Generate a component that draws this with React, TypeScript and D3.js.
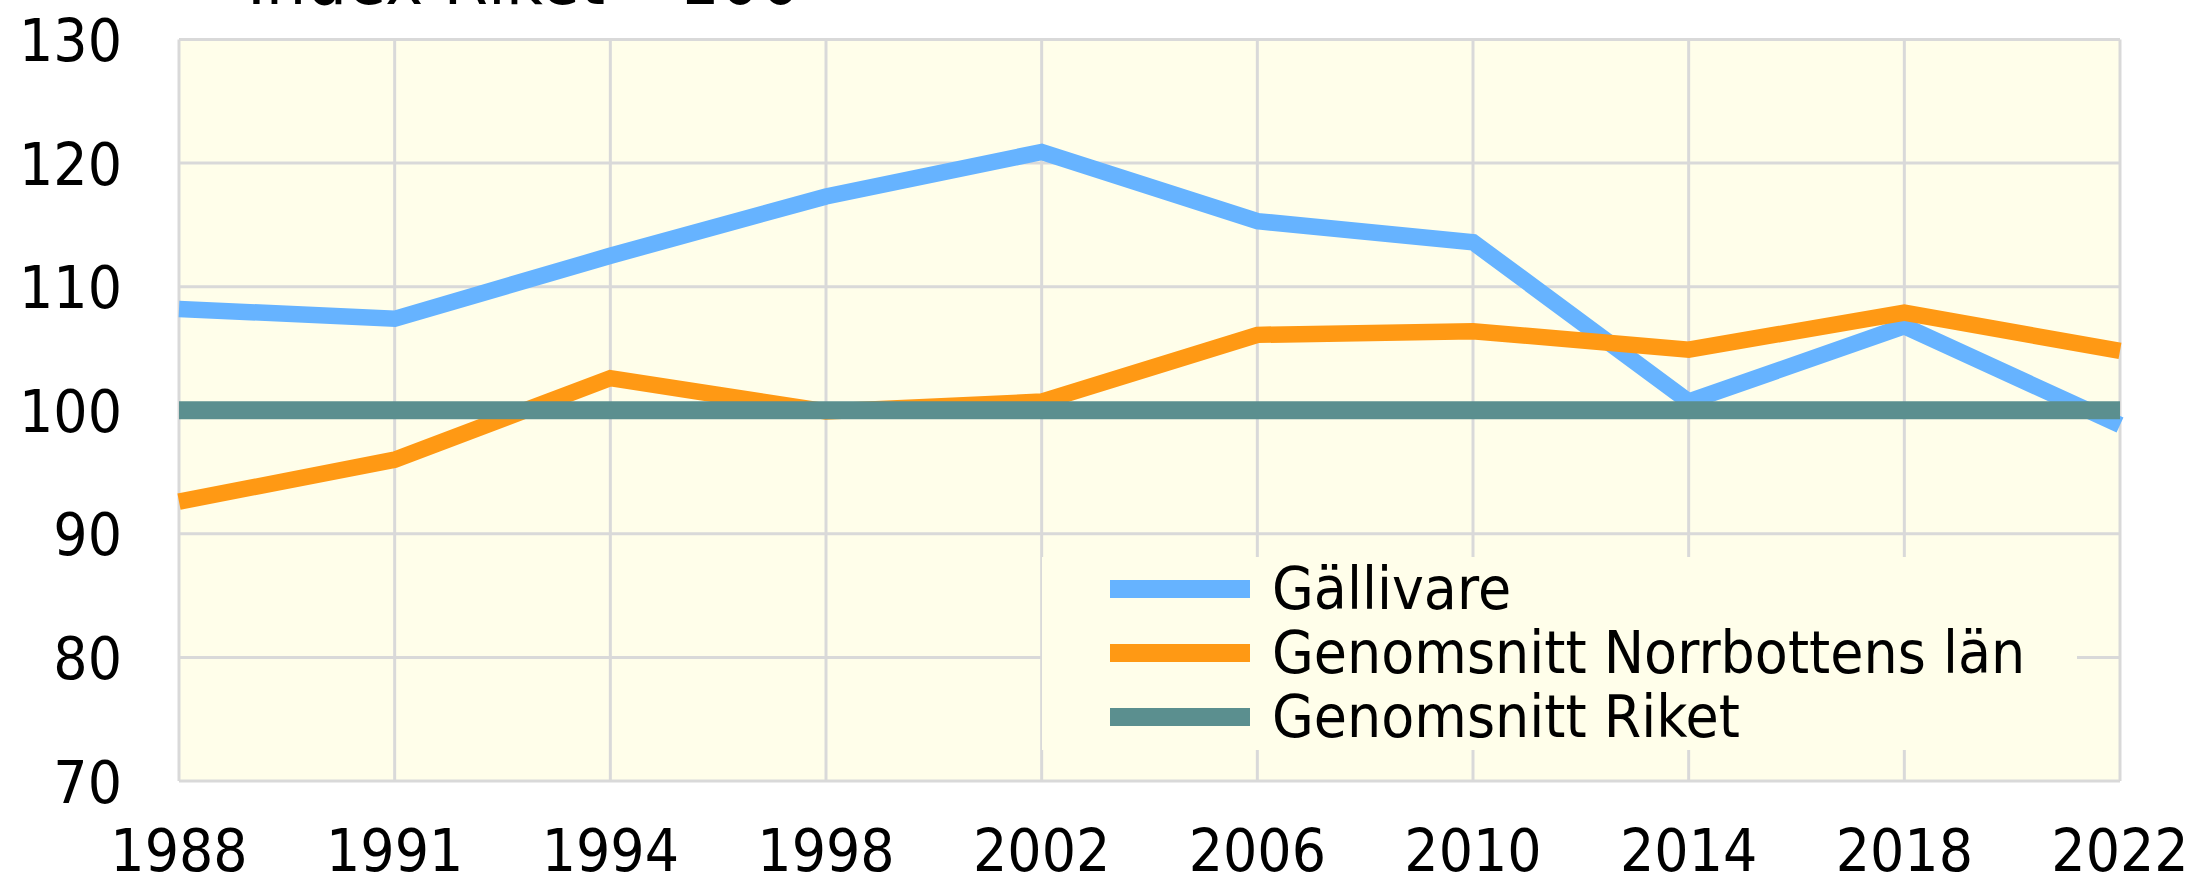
import React from "react";
import * as d3 from "d3";

const years = ["1988", "1991", "1994", "1998", "2002", "2006", "2010", "2014", "2018", "2022"];
const gallivare = [108.2, 107.4, 112.5, 117.3, 120.9, 115.3, 113.6, 100.7, 106.8, 98.8];
const norrbotten = [92.6, 96.0, 102.6, 99.9, 100.7, 106.1, 106.4, 104.9, 107.9, 104.8];
const riket = [100, 100, 100, 100, 100, 100, 100, 100, 100, 100];
const yTicks = [70, 80, 90, 100, 110, 120, 130];
const seriesNames = ["Gällivare", "Genomsnitt Norrbottens län", "Genomsnitt Riket"];
const seriesColors = ["#66b3ff", "#ff9914", "#5b8f8f"];
const title = "Index Riket =100";

const W = 2193;
const H = 877;
const FONT = "'DejaVu Sans', Verdana, sans-serif";
const SY = 1.1;

function T(props: { x: number; y: number; size: number; anchor?: string; children: React.ReactNode }) {
  return (
    <text
      transform={`translate(${props.x},${props.y}) scale(1,${SY})`}
      fontSize={props.size}
      textAnchor={props.anchor || "start"}
      fill="#000"
    >
      {props.children}
    </text>
  );
}

export default function App() {
  const left = 179, right = 2120, top = 39.5, bottom = 781;
  const x = d3.scalePoint<string>().domain(years).range([left, right]);
  const y = d3.scaleLinear().domain([70, 130]).range([bottom, top]);
  const line = d3
    .line<number>()
    .x((_, i) => x(years[i]) as number)
    .y((d) => y(d));

  const data = [gallivare, norrbotten, riket];
  const widths = [16.5, 16.5, 18];

  const legend = { x: 1042, y: 557, w: 1035, h: 193 };
  const legendRows = [589, 653, 717];

  return (
    <svg
      width={W}
      height={H}
      style={{ position: "absolute", left: 0, top: 0, background: "#ffffff" }}
      fontFamily={FONT}
    >
      <rect x={0} y={0} width={W} height={H} fill="#ffffff" />
      <T x={247} y={4} size={64}>{title}</T>
      <rect x={left} y={top} width={right - left} height={bottom - top} fill="#fffeea" />
      {yTicks.map((t) => (
        <line key={"h" + t} x1={left} x2={right} y1={y(t)} y2={y(t)} stroke="#d9d9d9" strokeWidth={3} />
      ))}
      {years.map((yr) => (
        <line key={"v" + yr} x1={x(yr)} x2={x(yr)} y1={top} y2={bottom} stroke="#d9d9d9" strokeWidth={3} />
      ))}
      <rect x={legend.x} y={legend.y} width={legend.w} height={legend.h} fill="#fffeea" />
      {data.map((d, i) => (
        <path
          key={"s" + i}
          d={line(d) as string}
          fill="none"
          stroke={seriesColors[i]}
          strokeWidth={widths[i]}
          strokeLinejoin="miter"
          strokeLinecap="butt"
        />
      ))}
      {yTicks.map((t) => (
        <T key={"yl" + t} x={122} y={y(t) + 21.5} size={54} anchor="end">
          {t}
        </T>
      ))}
      {years.map((yr) => (
        <T key={"xl" + yr} x={x(yr) as number} y={871} size={54} anchor="middle">
          {yr}
        </T>
      ))}
      {seriesNames.map((n, i) => (
        <g key={"lg" + i}>
          <rect x={1110} y={legendRows[i] - 9} width={140} height={18} fill={seriesColors[i]} />
          <T x={1272} y={legendRows[i] + 20} size={54}>
            {n}
          </T>
        </g>
      ))}
    </svg>
  );
}
